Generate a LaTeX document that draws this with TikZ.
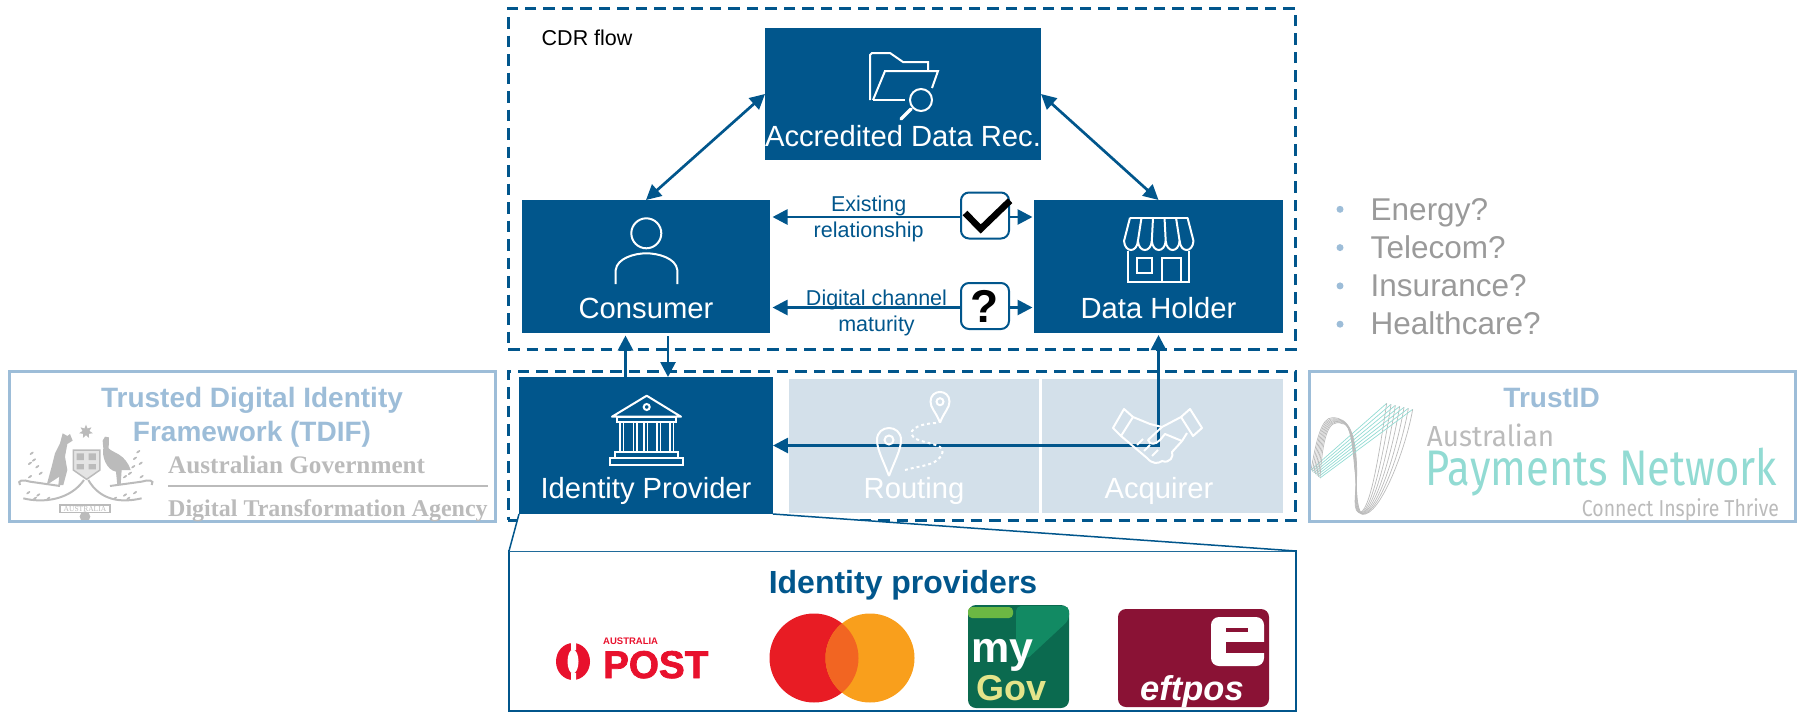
\documentclass[tikz,border=0pt]{standalone}
\usepackage{fontspec}
\setmainfont{Liberation Sans}
\newfontfamily\govfont{Liberation Serif}
\newfontfamily\apnfont{Fira Sans}
\newfontfamily\postfont[BoldFeatures={FakeBold=2}]{Liberation Sans}
\usetikzlibrary{arrows.meta,positioning,calc,shapes.geometric}
\definecolor{cdrblue}{HTML}{01568C}
\definecolor{paleblue}{HTML}{D3E0EA}
\definecolor{edgeblue}{HTML}{9DBDD8}
\definecolor{listgrey}{HTML}{9A9A9A}
\definecolor{govgrey}{HTML}{BBBBBB}
\definecolor{apnteal}{HTML}{92DBD3}
\definecolor{postred}{HTML}{E8112D}
\definecolor{eftred}{HTML}{8A1235}
\definecolor{cardred}{HTML}{E81C24}
\definecolor{cardorange}{HTML}{F99F1C}
\definecolor{cardmix}{HTML}{F26522}
\definecolor{govdark}{HTML}{0B6A4F}
\definecolor{govmid}{HTML}{128A63}
\definecolor{govtab}{HTML}{6CB843}
\definecolor{govyellow}{HTML}{E4E48A}
\tikzset{
	>={Triangle[length=15pt,width=15pt]},
	bluebox/.style={
		rectangle, inner sep=0pt, outer sep=0pt, fill=cdrblue
	},
	%
	palebox/.style={
		rectangle, inner sep=0pt, outer sep=0pt, fill=paleblue,
		minimum height=134pt
	},
	%
	dashbox/.style={
		rectangle, inner sep=0pt, outer sep=0pt, draw=cdrblue, line width=3pt,
		dash pattern=on 11.5pt off 7pt, minimum width=787pt
	},
	%
	logobox/.style={
		rectangle, inner sep=0pt, outer sep=0pt, draw=edgeblue, line width=3pt,
		minimum height=150pt
	},
	%
	boxtext/.style={
		anchor=base, inner sep=0pt, text=white, font=\fontsize{29.2}{34}\selectfont
	},
	%
	smalltext/.style={
		inner sep=0pt, align=center, text=cdrblue, font=\fontsize{21.5}{25.5}\selectfont
	},
	%
	logotitle/.style={
		inner sep=0pt, align=center, text=edgeblue, font=\fontsize{28}{34}\selectfont\bfseries
	},
	%
	askbox/.style={
		rectangle, rounded corners=8pt, inner sep=0pt, draw=cdrblue, line width=2pt,
		fill=white, minimum width=48pt, minimum height=46pt
	},
	%
	flow/.style={
		<->, line width=2.7pt, draw=cdrblue
	},
	%
	icon/.style={
		draw=white, line width=2pt
	}
}

\begin{document}
\begin{tikzpicture}[x=1pt,y=-1pt]
    \useasboundingbox (0,0) rectangle (1803,712);

    \node(cdrbox)[dashbox, minimum height=341pt] at (901.5,178.5){};
    \node(lowerbox)[dashbox, minimum height=149pt] at (901.5,445.5){};
    \node(cdrflow)[anchor=west, inner sep=0pt, font=\fontsize{21.5}{25}\selectfont] at (541.5,38){CDR flow};

    \node(adr)[bluebox, minimum width=276pt, minimum height=132pt] at (903,94){};
    \node(cons)[bluebox, minimum width=248pt, minimum height=133pt] at (646,266.5){};
    \node(holder)[bluebox, minimum width=249pt, minimum height=133pt, right=264pt of cons]{};
    \node(idp)[bluebox, minimum width=254pt, minimum height=137pt] at (646,445.5){};
    \node(routing)[palebox, minimum width=250pt, right=16pt of idp]{};
    \node(acquirer)[palebox, minimum width=241pt, right=3pt of routing]{};

    \node(adrtext)[boxtext] at ($(adr.south)+(0,-14)$){Accredited Data Rec.};
    \node(constext)[boxtext] at ($(cons.south)+(0,-14.7)$){Consumer};
    \node(holdertext)[boxtext] at ($(holder.south)+(0,-14.7)$){Data Holder};
    \node(idptext)[boxtext] at ($(idp.south)+(0,-15.3)$){Identity Provider};
    \node(routingtext)[boxtext] at ($(routing.center)+(0,53)$){Routing};
    \node(acquirertext)[boxtext] at ($(acquirer.center)+(-3.5,53)$){Acquirer};

    \node(provbox)[rectangle, inner sep=0pt, outer sep=0pt, draw=cdrblue, line width=2.5pt, minimum width=787pt, minimum height=160pt] at (902.5,631){};
    \fill[white] (idp.south west) -- (provbox.north west) -- (provbox.north east) -- (idp.south east) -- cycle;
    \draw[cdrblue, line width=1.5pt] (idp.south west) -- (provbox.north west);
    \draw[cdrblue, line width=1.5pt] (idp.south east) -- (provbox.north east);
    \node(provtitle)[inner sep=0pt, text=cdrblue, font=\fontsize{32}{38}\selectfont\bfseries] at (903,585){Identity providers};

    % arrows
    \draw[flow] (adr.west) -- (cons.north);
    \draw[flow] (adr.east) -- (holder.north);
    \draw[flow] ($(cons.east)+(2.5,-49.5)$) -- node(existing)[smalltext, pos=.37, yshift=-2pt]{Existing\\relationship} ($(holder.west)+(-1.5,-49.5)$);
    \draw[flow] ($(cons.east)+(2.5,41)$) -- node(digital)[smalltext, pos=.4, yshift=-5.5pt]{Digital channel\\maturity} ($(holder.west)+(-1.5,41)$);
    \draw[->, line width=2.7pt, draw=cdrblue] ($(idp.north)+(-20.5,0)$) -- ($(cons.south)+(-20.5,2.5)$);
    \draw[->, line width=2.7pt, draw=cdrblue] ($(cons.south)+(22,3)$) -- ($(idp.north)+(22,0)$);
    \draw[flow] (idp.east) -| ($(holder.south)+(0,2)$);

    \node(checkbox)[askbox] at (985,215.5){};
    \draw[black, line width=6.5pt] (965,213) -- (980.7,229) -- (1010,200.7);
    \node(askbox)[askbox, font=\fontsize{46}{46}\selectfont\bfseries] at (985,306){\raisebox{-3pt}{?}};

    % person
    \draw[icon] (646.3,233.3) circle (15);
    \draw[icon] (615.7,284) -- (615.7,270) .. controls (617,258) and (635,253.3) .. (646.3,253.3) .. controls (658,253.3) and (676,258) .. (677.3,270) -- (677.3,284);

    % folder
    \draw[icon] (870,100) -- (870,55) -- ++(2,-2) -- (890,53) -- (903,62) -- (928,62) -- (928,71);
    \draw[icon] (873,100) -- (885,71) -- (938,71) -- (932,88);
    \draw[icon] (873,100) -- (905,100);
    \draw[icon] (921,100) circle (11);
    \draw[white, line width=3.5pt, line cap=round] (911,109) -- (901,119);

    % store
    \draw[icon] (1130,217.7) -- (1187.5,217.7);
    \foreach \k [evaluate=\k as \a using 1130+11.5*\k, evaluate=\k as \b using 1124+13.9*\k] in {0,...,5}
        \draw[icon] (\a,217.7) -- (\b,241);
    \foreach \k [evaluate=\k as \b using 1124+13.9*\k] in {0,...,4}
        \draw[icon] (\b,241) .. controls +(1,12) and +(-1,12) .. ++(13.9,0);
    \draw[icon] (1128.3,251) -- (1128.3,282.3) -- (1189.3,282.3) -- (1189.3,251);
    \draw[icon] (1136.7,258.3) rectangle (1152.3,272.7);
    \draw[icon] (1161.7,282.3) -- (1161.7,258.3) -- (1180.7,258.3) -- (1180.7,282.3);

    % bank
    \draw[icon, line join=round] (612,416.7) -- (646.7,395.7) -- (681,416.7) -- cycle;
    \draw[icon] (646.7,407) circle (3);
    \draw[icon] (617,417) rectangle (676,422);
    \foreach \c in {620,633.5,644,657,670}
        \draw[icon, line width=1.5pt] (\c,422) -- (\c,452) (\c+3.5,422) -- (\c+3.5,452);
    \draw[icon] (615,452) rectangle (678,458);
    \draw[icon] (610,458) rectangle (683,465);

    % route
    \draw[icon] (940,422.7) .. controls (936,412) and (930.5,408) .. (930.5,401.7) .. controls (930.5,388.7) and (949.5,388.7) .. (949.5,401.7) .. controls (949.5,408) and (944,412) .. (940,422.7);
    \draw[icon] (940,401.7) circle (3.5);
    \draw[icon] (889,476) .. controls (884,462) and (877,450) .. (877,440) .. controls (877,424) and (901,424) .. (901,440) .. controls (901,450) and (894,462) .. (889,476);
    \draw[icon] (889,440) circle (4.5);
    \draw[icon, dash pattern=on 3pt off 3pt] (936,423) .. controls (915,424) and (905,432) .. (916,439) .. controls (930,445) and (948,444) .. (941,456) .. controls (935,466) and (918,466) .. (905,470);

    % handshake
    \draw[icon, line join=round] (1190,409) -- (1202,428) -- (1193,436) -- (1181,417) -- cycle;
    \draw[icon, line join=round] (1124,409) -- (1113,428) -- (1121,436) -- (1133,417) -- cycle;
    \draw[icon, line join=round] (1133,417) -- (1150,424) -- (1162,427) -- (1181,417);
    \draw[icon, line join=round] (1121,436) -- (1147,458) .. controls (1152,464) and (1158,464) .. (1162,461) .. controls (1170,464) and (1174,456) .. (1172,452) -- (1182,441) -- (1187,433);
    \draw[icon, line join=round] (1162,427) -- (1148,440) .. controls (1150,446) and (1156,444) .. (1160,440) -- (1165,434) -- (1182,441);
    \draw[icon, line join=round] (1137,445) -- (1143,439) (1144,451) -- (1150,445) (1152,456) -- (1158,450);

    % list
    \foreach \txt [count=\n] in {Energy?,Telecom?,Insurance?,Healthcare?}{
        \node(sector\n)[anchor=base west, inner sep=0pt, text=listgrey, font=\fontsize{31.5}{36}\selectfont] at (1370.5,181.7+38.3*\n){\txt};
        \node(bullet\n)[circle, inner sep=0pt, minimum size=7pt, fill=edgeblue] at (1340,171+38.3*\n){};
    }

    % coat of arms
    \begin{scope}[shift={(10,420)},x=.3333pt,y=-.3333pt]
        \node(armstar)[star, star points=7, star point ratio=2, inner sep=0pt, minimum size=14pt, fill=govgrey] at (228,35){};
        \fill[govgrey] (158,40) -- (172,48) -- (180,42) -- (188,62) -- (172,72) -- (165,110) -- (172,150) -- (160,195) -- (145,195) -- (148,170) -- (110,195) -- (125,140) -- (135,100) -- (150,70) -- cycle;
        \fill[govgrey] (278,62) -- (285,50) -- (297,52) -- (296,85) .. controls (310,100) and (345,100) .. (362,150) -- (335,150) -- (332,195) -- (322,195) -- (318,155) .. controls (290,150) and (275,110) .. (280,85) -- cycle;
        \draw[govgrey, fill=govgrey!40, line width=1.5pt] (190,90) -- (270,90) -- (270,150) -- (230,178) -- (190,150) -- cycle;
        \fill[govgrey] (200,100) rectangle (222,120) (236,100) rectangle (258,120) (200,132) rectangle (222,148) (236,132) rectangle (258,148);
        \draw[govgrey, line width=2pt] (30,195) .. controls (20,180) and (40,178) .. (60,185) -- (150,198) (425,195) .. controls (435,180) and (415,178) .. (395,185) -- (300,198);
        \draw[govgrey, line width=2pt] (40,235) .. controls (100,250) and (180,240) .. (222,180) (395,235) .. controls (330,250) and (270,240) .. (235,180);
        \foreach \lx/\ly in {65/100,72/120,82/140,60/130,92/160,385/95,375/115,370/140,392/130,360/160,55/218,85/225,115/235,75/235,375/218,345/225,315/235,355/235,345/170,395/170,60/170}
            \fill[govgrey, rotate around={35:(\lx,\ly)}] (\lx,\ly) ellipse (7 and 3);
        \draw[govgrey, fill=white, line width=1.5pt] (150,255) -- (300,255) -- (300,278) -- (150,278) -- cycle;
        \node(armmotto)[inner sep=0pt, text=govgrey, font=\fontsize{7.5}{8}\govfont] at (225,267){AUSTRALIA};
        \fill[govgrey] (225,290) circle (16);
    \end{scope}

    % tdif
    \node(tdifbox)[logobox, minimum width=486pt] at (252,446){};
    \node(tdiftitle)[logotitle] at (252,417){Trusted Digital Identity\\Framework (TDIF)};
    \node(auslabel)[anchor=base west, inner sep=0pt, text=govgrey, font=\fontsize{25.2}{30}\govfont\bfseries] at (168,473.5){Australian Government};
    \coordinate(ruleleft) at (168,486);
    \coordinate(ruleright) at (488,486);
    \draw[govgrey, line width=1.5pt] (ruleleft) -- (ruleright);
    \node(dtalabel)[anchor=base west, inner sep=0pt, text=govgrey, font=\fontsize{24}{30}\govfont\bfseries] at (168,516.5){Digital Transformation Agency};

    % trustid
    \node(trustbox)[logobox, minimum width=486pt] at (1552,446){};
    \node(trusttitle)[logotitle] at (1551.7,398){TrustID};
    \node(apnaus)[anchor=base west, inner sep=0pt, text=govgrey, font=\fontsize{29}{32}\apnfont] at (1426.7,446){\scalebox{.96}[1]{Australian}};
    \node(apnpay)[anchor=base west, inner sep=0pt, text=apnteal, font=\fontsize{50}{56}\apnfont] at (1425.7,485){\scalebox{.835}[1]{Payments Network}};
    \node(apnmotto)[anchor=base west, inner sep=0pt, text=govgrey, font=\fontsize{23}{26}\apnfont] at (1581.7,516){\scalebox{.845}[1]{Connect  Inspire Thrive}};
    \begin{scope}[shift={(1305,375)},x=.3333pt,y=-.3333pt]
        \foreach \i in {0,...,6}{
            \draw[apnteal, line width=.7pt] (18+4.5*\i,285+4*\i) -- (245+13*\i,85+3*\i);
            \draw[govgrey, line width=.7pt] (18+4.5*\i,285+4*\i) .. controls (35+3*\i,190) and (50+3*\i,128) .. (82+5*\i,128+3*\i) .. controls (130,128+3*\i) and (152-2*\i,170) .. (155-\i,280) .. controls (157,340) and (140+2*\i,400) .. (160+2*\i,412+\i) .. controls (195+5*\i,425) and (225+13*\i,220) .. (245+13*\i,85+3*\i);
        }
    \end{scope}

    % post
    \fill[postred] (573,661.5) ellipse (17 and 18.5);
    \fill[white] (573,661.5) ellipse (5.5 and 12);
    \fill[white] (571,641) rectangle (576,650) (571,673) rectangle (576,682);
    \node(posttext)[anchor=base west, inner sep=0pt, text=postred, font=\fontsize{38.6}{40}\postfont\bfseries] at (603,678){POST};
    \node(postaus)[anchor=base west, inner sep=0pt, text=postred, font=\fontsize{9.5}{10}\selectfont\bfseries] at (603,644.5){AUSTRALIA};

    % mastercard
    \fill[cardred] (814,658) circle (44.5);
    \fill[cardorange] (870,658) circle (44.5);
    \begin{scope}
        \clip (814,658) circle (44.5);
        \fill[cardmix] (870,658) circle (44.5);
    \end{scope}

    % mygov
    \fill[govdark, rounded corners=8pt] (968,605) rectangle (1069,708);
    \fill[govmid, rounded corners=5pt] (1016,606) -- (1069,606) -- (1069,620) -- (1026,660) -- (1016,650) -- cycle;
    \fill[govtab, rounded corners=4pt] (968,607) rectangle (1013,618);
    \node(mytext)[anchor=base west, inner sep=0pt, text=white, font=\fontsize{43}{45}\selectfont\bfseries] at (971,662){my};
    \node(govtext)[anchor=base west, inner sep=0pt, text=govyellow, font=\fontsize{36}{38}\selectfont\bfseries] at (976,700){Gov};

    % eftpos
    \fill[eftred, rounded corners=8pt] (1118,609) rectangle (1269,707);
    \fill[white, rounded corners=8pt] (1211,617) rectangle (1264,666);
    \fill[eftred] (1226,628) rectangle (1248,632);
    \fill[eftred] (1226,642) rectangle (1265,653);
    \node(efttext)[anchor=base west, inner sep=0pt, text=white, font=\fontsize{34.5}{38}\selectfont\bfseries\itshape] at (1140,700){eftpos};
\end{tikzpicture}
\end{document}
